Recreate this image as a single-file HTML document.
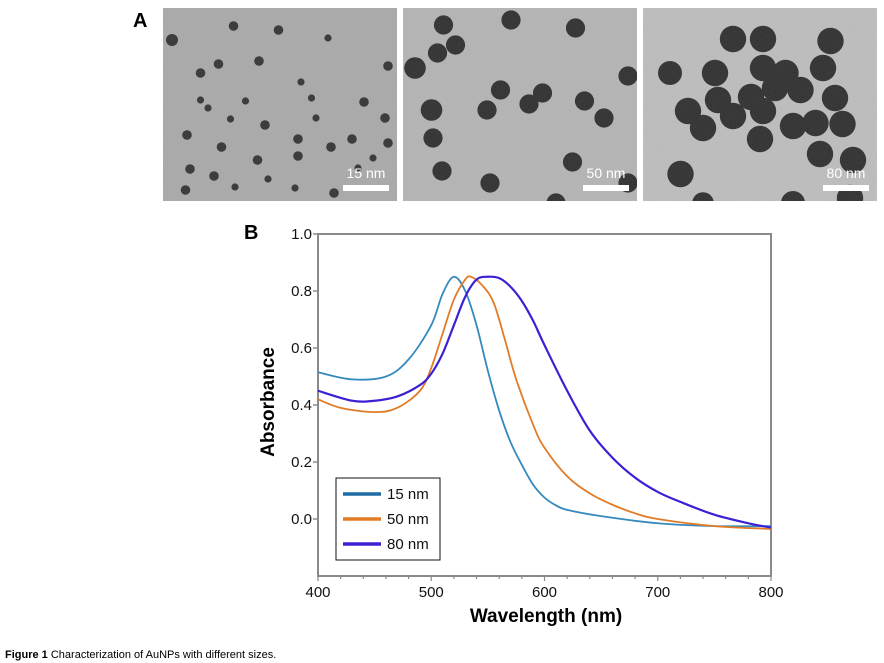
<!DOCTYPE html>
<html><head><meta charset="utf-8"><style>
body{margin:0;background:#fff;width:884px;height:663px;overflow:hidden;font-family:"Liberation Sans",sans-serif;}
svg{position:absolute;left:0;top:0}
</style></head><body>
<svg width="884" height="663">
<defs>
<filter id="noise"><feTurbulence type="fractalNoise" baseFrequency="0.9" numOctaves="2" result="n"/><feColorMatrix type="saturate" values="0"/><feComponentTransfer><feFuncA type="linear" slope="0.25"/></feComponentTransfer></filter>
</defs>
<text x="133" y="27" font-size="20" font-weight="bold">A</text>
<g id="tem"></g>
<text x="244" y="239" font-size="20" font-weight="bold">B</text>
<g id="chart"></g>
<text x="5" y="658" font-size="11"><tspan font-weight="bold">Figure 1</tspan> Characterization of AuNPs with different sizes.</text>
</svg>
<script>
const NS="http://www.w3.org/2000/svg";
function mk(p,t,a){const e=document.createElementNS(NS,t);for(const k in a)e.setAttribute(k,a[k]);p.appendChild(e);return e;}
const tem=document.getElementById('tem');
const panels=[
 {x:163,bg:"#a9a9a9",label:"15 nm",dots:[[6,32,5],[47,18,4],[77,22,4],[37,56,4],[64,53,4],[110,30,3],[150,58,4],[25,65,4],[92,74,3],[25,92,3],[55,93,3],[99,90,3],[134,94,4],[68,117,4],[16,127,4],[90,131,4],[126,131,4],[45,111,3],[30,100,3],[102,110,3],[148,110,4],[39,139,4],[112,139,4],[63,152,4],[140,150,3],[18,161,4],[90,148,4],[150,135,4],[70,171,3],[114,185,4],[34,168,4],[15,182,4],[48,179,3],[88,180,3],[130,160,3]]},
 {x:403,bg:"#b4b4b4",label:"50 nm",dots:[[27,17,8],[35,37,8],[23,45,8],[8,60,9],[72,12,8],[115,20,8],[150,68,8],[65,82,8],[93,85,8],[84,96,8],[56,102,8],[19,102,9],[121,93,8],[134,110,8],[20,130,8],[26,163,8],[113,154,8],[58,175,8],[102,195,8],[150,175,8]]},
 {x:643,bg:"#bdbdbd",label:"80 nm",dots:[[60,31,11],[80,31,11],[125,33,11],[18,65,10],[48,65,11],[80,60,11],[95,65,11],[120,60,11],[50,92,11],[72,89,11],[88,80,11],[105,82,11],[128,90,11],[30,103,11],[60,108,11],[80,103,11],[100,118,11],[115,115,11],[133,116,11],[40,120,11],[78,131,11],[118,146,11],[140,152,11],[25,166,11],[100,195,10],[138,190,11],[40,195,9]]}
];
panels.forEach((p,i)=>{
 const g=mk(tem,'g',{});
 
 
 const cp=mk(g,'clipPath',{id:'cp'+i});mk(cp,'rect',{x:p.x,y:8,width:234,height:193});
 const inner=mk(g,'g',{'clip-path':'url(#cp'+i+')'});
 mk(inner,'rect',{x:p.x,y:8,width:234,height:193,fill:p.bg});
 p.dots.forEach(d=>mk(inner,'circle',{cx:p.x+d[0]*1.5,cy:8+d[1],r:d[2]*(i==0?1.2:1.2),fill:i==0?"#333":"#2e2e2e"}));
 mk(inner,'rect',{x:p.x,y:8,width:234,height:193,filter:'url(#noise)',opacity:0.6});
 mk(g,'rect',{x:p.x+180,y:185,width:46,height:6,fill:"#fff"});
 const t=mk(g,'text',{x:p.x+203,y:178,'font-size':14,'text-anchor':'middle',fill:'#fff'});t.textContent=p.label;
});

const wl15=[400,430,460,480,500,510,520,530,540,550,560,570,580,590,600,610,620,650,700,750,800];
const ab15=[0.515,0.49,0.50,0.56,0.68,0.79,0.85,0.80,0.68,0.52,0.38,0.27,0.19,0.12,0.075,0.048,0.032,0.01,-0.015,-0.025,-0.025];
const wl50=[400,420,450,470,490,500,510,520,530,535,545,555,565,575,590,600,620,640,660,680,700,750,800];
const ab50=[0.42,0.39,0.375,0.39,0.45,0.53,0.65,0.77,0.84,0.85,0.82,0.76,0.63,0.49,0.33,0.25,0.15,0.09,0.05,0.02,0.0,-0.025,-0.035];
const wl80=[400,430,450,470,490,500,510,520,530,540,550,560,570,580,590,600,620,640,660,680,700,720,750,780,800];
const ab80=[0.45,0.415,0.415,0.43,0.47,0.51,0.58,0.68,0.78,0.84,0.85,0.845,0.815,0.765,0.695,0.61,0.45,0.31,0.215,0.145,0.095,0.06,0.015,-0.015,-0.03];
const xTicks=[400,500,600,700,800];
const yTicks=[0.0,0.2,0.4,0.6,0.8,1.0];
const seriesNames=["15 nm","50 nm","80 nm"];
const colors=["#3489bd","#e27b26","#3a22d4"];
const legendColors=["#1f6ba3","#e27b26","#3a22d4"];

const L=318,R=771,T=234,B=576,X0=400,X1=800,Y0=-0.2,Y1=1.0;
const sx=v=>L+(v-X0)/(X1-X0)*(R-L);
const sy=v=>B-(v-Y0)/(Y1-Y0)*(B-T);
const ch=document.getElementById('chart');
const frame=mk(ch,'rect',{x:L,y:T,width:R-L,height:B-T,fill:'none',stroke:'#8a8a8a','stroke-width':2});


yTicks.forEach(v=>{
 mk(ch,'line',{x1:L-5,x2:L,y1:sy(v),y2:sy(v),stroke:'#8a8a8a','stroke-width':1.5});
 const t=mk(ch,'text',{x:L-6,y:sy(v)+5,'font-size':15,'text-anchor':'end',fill:'#111'});
 
 
 t.textContent=v.toFixed(1);
});
for(let v=X0;v<=X1;v+=20){
 mk(ch,'line',{x1:sx(v),x2:sx(v),y1:B,y2:B+(v%100==0?5:3),stroke:'#8a8a8a','stroke-width':1.2});
}
xTicks.forEach(v=>{
 const t=mk(ch,'text',{x:sx(v),y:B+21,'font-size':15,'text-anchor':'middle',fill:'#111'});
 
 
 t.textContent=v;
});
const xt=mk(ch,'text',{x:546,y:622,'font-size':19,'font-weight':'bold','text-anchor':'middle'});


xt.textContent="Wavelength (nm)";
const yt=mk(ch,'text',{x:0,y:0,'font-size':19,'font-weight':'bold','text-anchor':'middle',transform:'translate(274,402) rotate(-90)'});


yt.textContent="Absorbance";
const data=[[wl15,ab15],[wl50,ab50],[wl80,ab80]];
function smooth(pts){let d="M"+pts[0][0]+","+pts[0][1];for(let i=0;i<pts.length-1;i++){const p0=pts[i-1]||pts[i],p1=pts[i],p2=pts[i+1],p3=pts[i+2]||p2;
 d+=" C"+(p1[0]+(p2[0]-p0[0])/6)+","+(p1[1]+(p2[1]-p0[1])/6)+" "+(p2[0]-(p3[0]-p1[0])/6)+","+(p2[1]-(p3[1]-p1[1])/6)+" "+p2[0]+","+p2[1];}return d;}
data.forEach((s,i)=>{
 const pts=s[0].map((w,j)=>[sx(w),sy(s[1][j])]);
 const p=mk(ch,'path',{d:smooth(pts),fill:'none',stroke:colors[i],'stroke-width':i==2?2.2:1.8});
 
 
});
const lg=mk(ch,'g',{});


mk(lg,'rect',{x:336,y:478,width:104,height:82,fill:'#fff',stroke:'#111','stroke-width':1});
seriesNames.forEach((n,i)=>{
 const y=494+i*25;
 const e=mk(lg,'g',{});
 
 
 mk(e,'line',{x1:343,x2:381,y1:y,y2:y,stroke:legendColors[i],'stroke-width':3.5});
 const t=mk(e,'text',{x:387,y:y+5,'font-size':15,fill:'#111'});t.textContent=n;
});
</script>
</body></html>
